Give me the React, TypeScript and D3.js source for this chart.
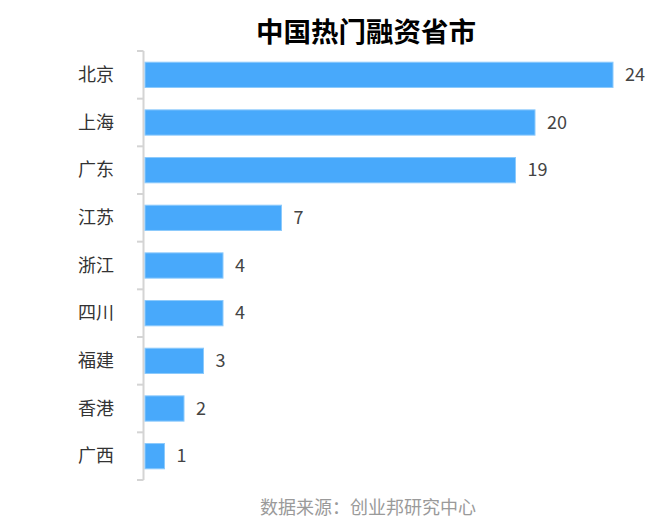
import React from 'react';
import { scaleBand, scaleLinear } from 'd3';

const provinces = ['北京', '上海', '广东', '江苏', '浙江', '四川', '福建', '香港', '广西'];
const counts = [24, 20, 19, 7, 4, 4, 3, 2, 1];
const title = '中国热门融资省市';
const source = '数据来源：创业邦研究中心';

const width = 669;
const height = 526;
const font = '"Noto Sans CJK SC", "Noto Sans", sans-serif';

const App = () => {
  const x = scaleLinear().domain([0, 24]).range([145, 613]);
  const y = scaleBand().domain(provinces).range([51, 480]).paddingInner(0.47).paddingOuter(0.235);
  const outer = scaleBand().domain(provinces).range([51, 480]);
  const axisX = 143.5;

  return (
    <svg width={width} height={height} style={{ position: 'absolute', left: 0, top: 0, background: '#fff' }}>
      <text x={366} y={42} textAnchor="middle" fontFamily={font} fontWeight="bold" fontSize={27.5} fill="#000">
        {title}
      </text>
      <line x1={axisX} x2={axisX} y1={51} y2={480} stroke="#d4d4d4" strokeWidth={2} />
      {provinces.map(p => (
        <line key={'t' + p} x1={137} x2={axisX} y1={outer(p)} y2={outer(p)} stroke="#d4d4d4" strokeWidth={2} />
      ))}
      <line x1={137} x2={axisX} y1={480} y2={480} stroke="#d4d4d4" strokeWidth={2} />
      {provinces.map((p, i) => {
        const cy = (outer(p) as number) + outer.bandwidth() / 2;
        return (
          <g key={p}>
            <rect
              x={x(0)}
              y={y(p)}
              width={x(counts[i]) - x(0)}
              height={y.bandwidth()}
              fill="#48a9fb"
              stroke="#8ccafc"
              strokeWidth={1}
            />
            <text x={114} y={cy} dy="0.35em" textAnchor="end" fontFamily={font} fontSize={18} fill="#333">
              {p}
            </text>
            <text x={x(counts[i]) + 12} y={cy} dy="0.35em" fontFamily={font} fontSize={18} fill="#444">
              {counts[i]}
            </text>
          </g>
        );
      })}
      <text x={368} y={514} textAnchor="middle" fontFamily={font} fontSize={18} fill="#9a9a9a">
        {source}
      </text>
    </svg>
  );
};

export default App;
